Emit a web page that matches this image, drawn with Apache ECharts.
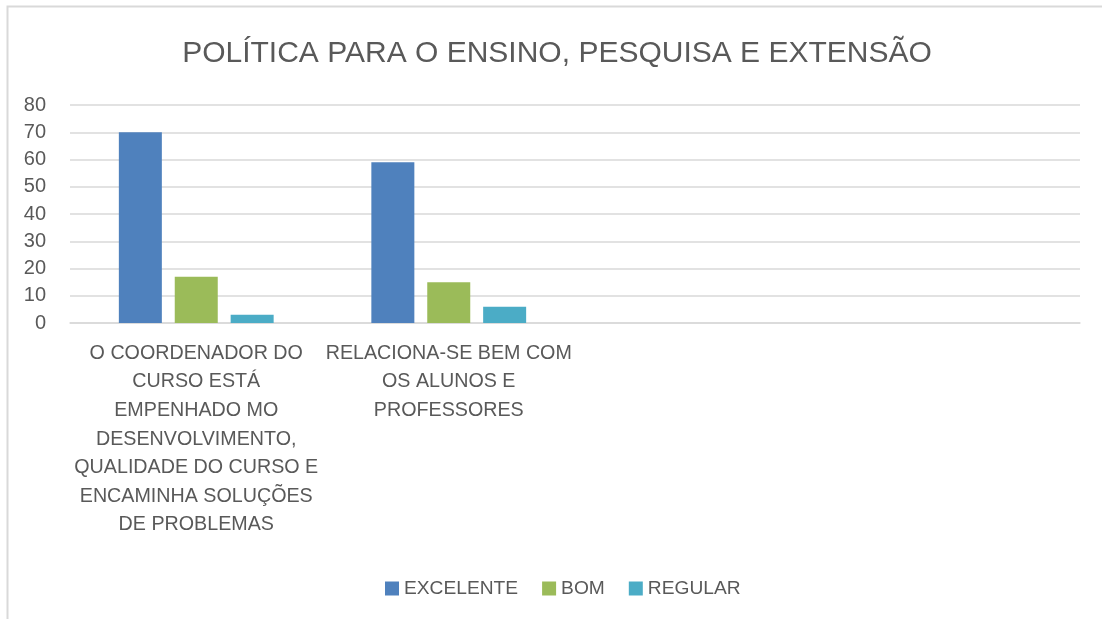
<!DOCTYPE html>
<html>
<head>
<meta charset="utf-8">
<script src="https://cdn.jsdelivr.net/npm/echarts@6/dist/echarts.min.js"></script>
<style>
html,body{margin:0;padding:0;background:#fff;}
#chart{width:1102px;height:619px;}
</style>
</head>
<body>
<div id="chart"></div>
<script>
const titleText = 'POLÍTICA PARA O ENSINO, PESQUISA E EXTENSÃO';
const categories = [
  'O COORDENADOR DO\nCURSO ESTÁ\nEMPENHADO MO\nDESENVOLVIMENTO,\nQUALIDADE DO CURSO E\nENCAMINHA SOLUÇÕES\nDE PROBLEMAS',
  'RELACIONA-SE BEM COM\nOS ALUNOS E\nPROFESSORES',
  ' ',
  '  '
];
const excelente = [70, 59, null, null];
const bom = [17, 15, null, null];
const regular = [3, 6, null, null];
const yTicks = {min: 0, max: 80, interval: 10};

const FONT = "'Liberation Sans', Arial, sans-serif";
const TXT = '#595959';

const chart = echarts.init(document.getElementById('chart'), null, {renderer: 'canvas'});
chart.setOption({
  animation: false,
  backgroundColor: '#fff',
  textStyle: {fontFamily: FONT},
  graphic: [{
    type: 'rect',
    shape: {x: 7.5, y: 6.5, width: 1200, height: 700},
    style: {fill: 'none', stroke: '#d9d9d9', lineWidth: 2},
    silent: true
  }],
  title: {
    text: titleText,
    left: 552,
    textAlign: 'center',
    top: 34,
    textStyle: {fontFamily: FONT, fontSize: 30, fontWeight: 'normal', color: TXT}
  },
  legend: {
    data: ['EXCELENTE', 'BOM', 'REGULAR'],
    left: 380,
    top: 574,
    itemWidth: 14,
    itemHeight: 14,
    itemGap: 24,
    icon: 'rect',
    textStyle: {fontFamily: FONT, fontSize: 19.2, color: TXT}
  },
  grid: {left: 70, right: 22, top: 105, bottom: 296, containLabel: false},
  xAxis: {
    type: 'category',
    data: categories,
    axisLine: {lineStyle: {color: '#d9d9d9', width: 1.5}},
    axisTick: {show: false},
    axisLabel: {
      interval: 0,
      fontFamily: FONT,
      fontSize: 19.7,
      color: TXT,
      lineHeight: 28.6,
      margin: 16,
      align: 'center'
    }
  },
  yAxis: {
    type: 'value',
    min: yTicks.min,
    max: yTicks.max,
    interval: yTicks.interval,
    axisLine: {show: false},
    axisTick: {show: false},
    splitLine: {lineStyle: {color: '#d9d9d9', width: 1.5}},
    axisLabel: {fontFamily: FONT, fontSize: 20, color: TXT, margin: 24}
  },
  series: [
    {name: 'EXCELENTE', type: 'bar', data: excelente, barWidth: 43, barGap: '30%',
     itemStyle: {color: '#4f81bd'}},
    {name: 'BOM', type: 'bar', data: bom, barWidth: 43, barGap: '30%',
     itemStyle: {color: '#9bbb59'}},
    {name: 'REGULAR', type: 'bar', data: regular, barWidth: 43, barGap: '30%',
     itemStyle: {color: '#4bacc6'}}
  ]
});
</script>
</body>
</html>
